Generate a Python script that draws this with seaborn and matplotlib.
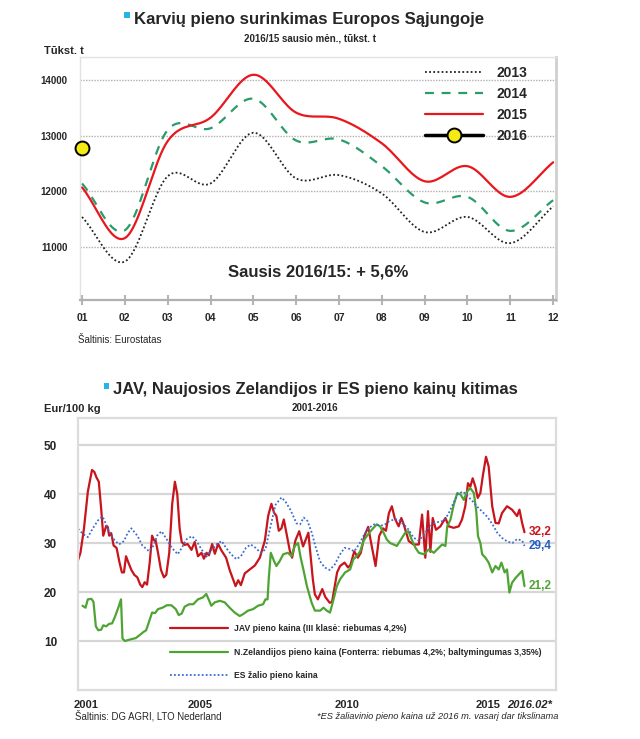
import numpy as np
import pandas as pd
import matplotlib
matplotlib.use("Agg")
import matplotlib.pyplot as plt
import seaborn as sns
from matplotlib.lines import Line2D
from matplotlib.patches import Rectangle

# ---- top chart: monthly cow milk collection, thousand t ----
months = np.arange(1, 13)
month_labels = ["01", "02", "03", "04", "05", "06", "07", "08", "09", "10", "11", "12"]
milk_2013 = [11540, 10740, 12270, 12140, 13050, 12230, 12290, 11960, 11270, 11540, 11070, 11730]
milk_2014 = [12140, 11300, 13100, 13130, 13660, 12910, 12930, 12450, 11800, 11900, 11290, 11840]
milk_2015 = [12070, 11160, 12900, 13320, 14090, 13410, 13300, 12860, 12180, 12450, 11900, 12520]
milk_2016 = [12780]

# ---- bottom chart: milk prices, EUR/100 kg ----
jav_t = [2001.0, 2001.08, 2001.2, 2001.33, 2001.47, 2001.55, 2001.62, 2001.7, 2001.78, 2001.85,
         2001.95, 2002.0, 2002.05, 2002.12, 2002.2, 2002.3, 2002.4, 2002.48, 2002.55, 2002.62,
         2002.7, 2002.8, 2002.9, 2003.0, 2003.1, 2003.17, 2003.25, 2003.33, 2003.42, 2003.5,
         2003.57, 2003.62, 2003.7, 2003.8, 2003.9, 2003.98, 2004.08, 2004.18, 2004.27, 2004.35,
         2004.43, 2004.5, 2004.6, 2004.7, 2004.83, 2004.94, 2005.05, 2005.17, 2005.25, 2005.34,
         2005.42, 2005.53, 2005.62, 2005.73, 2005.84, 2006.0, 2006.12, 2006.24, 2006.32, 2006.41,
         2006.5, 2006.63, 2006.8, 2006.97, 2007.14, 2007.31, 2007.42, 2007.53, 2007.62, 2007.7,
         2007.78, 2007.87, 2007.95, 2008.04, 2008.15, 2008.23, 2008.34, 2008.47, 2008.6, 2008.78,
         2008.93, 2009.0, 2009.1, 2009.25, 2009.35, 2009.5, 2009.58, 2009.67, 2009.75, 2009.85,
         2010.0, 2010.12, 2010.2, 2010.33, 2010.45, 2010.55, 2010.67, 2010.8, 2010.9, 2011.05,
         2011.17, 2011.3, 2011.4, 2011.5, 2011.6, 2011.7, 2011.83, 2011.92, 2012.0, 2012.17,
         2012.33, 2012.51, 2012.62, 2012.73, 2012.82, 2012.9, 2012.98, 2013.09, 2013.24, 2013.41,
         2013.52, 2013.69, 2013.86, 2013.97, 2014.08, 2014.17, 2014.25, 2014.33, 2014.42, 2014.5,
         2014.59, 2014.67, 2014.78, 2014.87, 2014.99, 2015.1, 2015.21, 2015.32, 2015.49, 2015.66,
         2015.83, 2015.91, 2016.0, 2016.08]
jav_v = [26.5, 28.0, 33.0, 40.5, 44.9, 44.5, 43.4, 42.5, 37.0, 31.5,
         33.5, 33.3, 31.5, 32.0, 29.5, 29.0, 26.0, 24.0, 24.0, 27.3,
         26.0, 24.5, 23.5, 23.0, 21.5, 21.0, 22.0, 21.5, 26.0, 31.5,
         30.5, 30.5, 28.0, 24.5, 23.0, 23.5, 28.0, 38.0, 42.5, 40.0,
         33.0, 30.2, 29.6, 29.8, 28.6, 30.2, 27.3, 28.0, 26.8, 28.0,
         27.5, 29.8, 27.8, 29.8, 28.5, 27.0, 24.5, 22.5, 21.2, 22.4,
         21.4, 23.8, 24.6, 25.4, 27.0, 30.5, 35.5, 38.0, 36.2, 35.5,
         32.5, 33.0, 34.8, 32.0, 28.5, 27.0, 30.5, 32.4, 29.3, 32.1,
         22.6, 19.5, 18.5, 20.6, 19.0, 17.8, 18.0, 21.2, 24.0, 25.3,
         26.0, 25.0, 25.5, 28.3, 27.0, 28.0, 31.4, 33.3, 30.0, 25.3,
         31.4, 33.0, 32.5, 36.1, 37.5, 35.0, 33.4, 35.1, 33.8, 30.4,
         29.7, 29.7, 35.8, 27.0, 36.5, 28.2, 35.1, 32.7, 33.4, 35.1,
         33.4, 33.1, 33.4, 34.8, 37.5, 42.2, 41.5, 43.2, 41.5, 39.2,
         40.2, 43.6, 47.6, 45.6, 37.5, 34.1, 34.0, 36.1, 37.5, 36.8,
         35.5, 36.8, 34.1, 32.2]

nz_t = [2001.15, 2001.25, 2001.33, 2001.45, 2001.52, 2001.6, 2001.68, 2001.78, 2001.85, 2001.95,
        2002.05, 2002.15, 2002.25, 2002.37, 2002.45, 2002.5, 2002.58, 2002.75, 2002.95, 2003.1,
        2003.2, 2003.3, 2003.4, 2003.5, 2003.6, 2003.7, 2003.85, 2004.0, 2004.15, 2004.3,
        2004.4, 2004.5, 2004.6, 2004.75, 2004.89, 2005.05, 2005.22, 2005.33, 2005.41, 2005.5,
        2005.62, 2005.79, 2005.95, 2006.12, 2006.29, 2006.46, 2006.58, 2006.74, 2006.91, 2007.08,
        2007.25, 2007.33, 2007.4, 2007.44, 2007.51, 2007.62, 2007.7, 2007.81, 2007.93, 2008.09,
        2008.21, 2008.32, 2008.43, 2008.52, 2008.61, 2008.73, 2008.89, 2009.0, 2009.18, 2009.29,
        2009.4, 2009.51, 2009.63, 2009.74, 2009.85, 2010.02, 2010.19, 2010.3, 2010.41, 2010.53,
        2010.64, 2010.75, 2010.92, 2011.09, 2011.2, 2011.32, 2011.43, 2011.54, 2011.77, 2012.05,
        2012.16, 2012.27, 2012.4, 2012.51, 2012.68, 2012.85, 2013.02, 2013.13, 2013.3, 2013.41,
        2013.47, 2013.58, 2013.69, 2013.81, 2013.92, 2014.03, 2014.14, 2014.25, 2014.37, 2014.45,
        2014.51, 2014.59, 2014.65, 2014.76, 2014.87, 2014.99, 2015.1, 2015.21, 2015.3, 2015.41,
        2015.49, 2015.57, 2015.66, 2015.77, 2015.89, 2016.0, 2016.08]
nz_v = [17.2, 16.8, 18.5, 18.6, 18.0, 13.0, 12.2, 12.3, 13.2, 13.0,
        13.5, 13.6, 15.0, 17.0, 18.5, 10.5, 10.0, 10.3, 10.6, 11.3,
        11.8, 12.2, 14.0, 15.8, 15.7, 16.5, 16.8, 17.3, 17.3, 16.5,
        15.3, 15.6, 17.0, 17.5, 17.5, 18.5, 18.9, 19.6, 18.5, 17.2,
        17.9, 18.2, 17.9, 16.8, 15.8, 15.1, 15.5, 16.2, 16.5, 17.2,
        17.5, 18.5, 18.5, 22.6, 28.0, 26.3, 25.3, 26.3, 27.7, 28.0,
        27.3, 29.4, 30.0, 27.0, 24.6, 21.2, 17.8, 16.2, 16.2, 16.8,
        16.2, 15.8, 18.5, 21.2, 22.6, 24.0, 24.6, 26.7, 27.3, 28.3,
        30.4, 31.4, 32.7, 33.8, 33.4, 32.1, 30.7, 30.0, 29.4, 32.1,
        32.4, 30.7, 29.0, 28.0, 27.7, 28.7, 28.0, 28.7, 29.7, 29.4,
        33.4, 34.8, 37.8, 40.2, 39.9, 38.8, 40.5, 41.2, 40.2, 36.5,
        31.4, 30.0, 27.7, 27.0, 26.0, 24.0, 25.3, 24.6, 26.0, 24.0,
        24.6, 19.9, 21.9, 22.8, 23.6, 24.3, 21.2]

es_t = [2001.0, 2001.17, 2001.33, 2001.5, 2001.67, 2001.83, 2002.0, 2002.17, 2002.38, 2002.55,
        2002.67, 2002.8, 2003.0, 2003.17, 2003.4, 2003.55, 2003.67, 2003.82, 2004.0, 2004.17,
        2004.37, 2004.5, 2004.67, 2004.85, 2005.0, 2005.17, 2005.33, 2005.5, 2005.67, 2005.85,
        2006.0, 2006.17, 2006.35, 2006.5, 2006.67, 2006.83, 2007.0, 2007.17, 2007.33, 2007.5,
        2007.67, 2007.87, 2008.0, 2008.17, 2008.38, 2008.5, 2008.62, 2008.75, 2008.9, 2009.0,
        2009.17, 2009.33, 2009.5, 2009.67, 2009.83, 2010.0, 2010.17, 2010.33, 2010.5, 2010.67,
        2010.83, 2011.0, 2011.17, 2011.33, 2011.5, 2011.67, 2011.83, 2012.0, 2012.17, 2012.33,
        2012.5, 2012.67, 2012.83, 2013.0, 2013.17, 2013.33, 2013.5, 2013.67, 2013.83, 2014.0,
        2014.17, 2014.33, 2014.5, 2014.67, 2014.83, 2015.0, 2015.17, 2015.33, 2015.5, 2015.67,
        2015.83, 2016.0, 2016.08]
es_v = [32.9, 31.8, 31.2, 33.0, 34.6, 35.4, 33.0, 31.0, 29.7, 30.4,
        32.0, 33.0, 31.5, 29.5, 28.3, 29.5, 31.5, 32.4, 30.7, 29.0,
        27.7, 29.0, 30.8, 31.4, 30.4, 28.7, 27.2, 28.5, 29.7, 30.4,
        29.0, 27.7, 26.7, 27.3, 29.0, 29.7, 29.0, 28.0, 28.7, 33.4,
        37.8, 39.3, 38.5, 36.8, 34.0, 33.8, 35.2, 34.5, 32.0, 29.7,
        26.3, 25.0, 24.5, 25.6, 27.5, 29.0, 28.8, 28.3, 29.8, 31.8,
        33.1, 33.8, 33.6, 33.6, 34.4, 34.8, 34.8, 33.8, 32.7, 31.1,
        30.5, 31.5, 33.0, 34.0, 34.3, 34.5, 35.8, 38.0, 40.0, 40.5,
        39.5, 38.5, 37.3, 36.3, 35.3, 33.8, 32.0, 31.0, 30.3, 30.0,
        30.8, 30.5, 29.4]

year_ticks = [2001.27, 2005.12, 2010.1, 2014.85, 2016.25]
year_labels = ["2001", "2005", "2010", "2015", "2016.02*"]

RED = "#c8141c"
GREEN = "#4ea433"
BLUE = "#3a6cd0"
CYAN = "#22b5e6"


def smooth(x, y, n=20):
    # catmull-rom curve through the points, only for drawing (like excel smoothed lines)
    x = np.asarray(x, float)
    y = np.asarray(y, float)
    px = np.concatenate([[2 * x[0] - x[1]], x, [2 * x[-1] - x[-2]]])
    py = np.concatenate([[2 * y[0] - y[1]], y, [2 * y[-1] - y[-2]]])
    xs, ys = [], []
    t = np.linspace(0, 1, n, endpoint=False)
    for i in range(1, len(px) - 2):
        for p, out in ((px, xs), (py, ys)):
            p0, p1, p2, p3 = p[i - 1], p[i], p[i + 1], p[i + 2]
            out.append(0.5 * (2 * p1 + (-p0 + p2) * t + (2 * p0 - 5 * p1 + 4 * p2 - p3) * t ** 2
                              + (-p0 + 3 * p1 - 3 * p2 + p3) * t ** 3))
    xs.append([x[-1]])
    ys.append([y[-1]])
    return np.concatenate(xs), np.concatenate(ys)


sns.set_theme(style="white")
plt.rcParams["font.family"] = ["Liberation Sans", "DejaVu Sans"]

fig = plt.figure(figsize=(6.4, 7.39), dpi=100)

# ================= top chart =================
ax1 = fig.add_axes([0.125, 0.594, 0.744, 0.329])
top = pd.DataFrame({"month": months, "2013": milk_2013, "2014": milk_2014, "2015": milk_2015})
styles = {"2013": ("#222222", (0, (1, 1.3)), 1.3),
          "2014": ("#2a9c6a", (0, (4, 3.5)), 1.6),
          "2015": ("#e8161d", "-", 1.6)}
for col, (color, ls, lw) in styles.items():
    sx, sy = smooth(top["month"], top[col])
    sns.lineplot(x=sx, y=sy, ax=ax1, color=color, linestyle=ls, linewidth=lw,
                 estimator=None, sort=False)
ax1.plot(months[:len(milk_2016)], milk_2016, marker="o", markersize=10, markerfacecolor="#f5ea14",
         markeredgecolor="black", markeredgewidth=1.4, linestyle="none", clip_on=False, zorder=5)

ax1.set_xlim(0.953, 12.07)
ax1.set_ylim(10050, 14410)
ax1.set_yticks([11000, 12000, 13000, 14000])
ax1.set_yticklabels(["11000", "12000", "13000", "14000"], fontweight="bold", fontsize=7)
ax1.set_xticks(months)
ax1.set_xticklabels(month_labels, fontweight="bold", fontsize=7.5)
ax1.tick_params(axis="y", length=0, pad=9)
ax1.tick_params(axis="x", direction="inout", length=7, width=1.5, color="#b5b5b5", pad=6, bottom=True)
ax1.grid(axis="y", color="#b0b0b0", linestyle=(0, (1, 1)), linewidth=1)
ax1.set_xlabel("")
ax1.set_ylabel("")
for side, c, w in [("left", "#e2e2e2", 1.0), ("top", "#e2e2e2", 1.0),
                   ("right", "#cfcfcf", 2.0), ("bottom", "#b0b0b0", 1.6)]:
    ax1.spines[side].set_color(c)
    ax1.spines[side].set_linewidth(w)

handles = [Line2D([], [], color=c, linestyle=ls, linewidth=lw) for c, ls, lw in styles.values()]
handles.append(Line2D([], [], color="black", linewidth=2.5, marker="o", markersize=10,
                      markerfacecolor="#f5ea14", markeredgecolor="black", markeredgewidth=1.4))
ax1.legend(handles, ["2013", "2014", "2015", "2016"], loc="upper left",
           bbox_to_anchor=(0.71, 0.99), frameon=False, borderpad=0, handlelength=4.2,
           handletextpad=0.95, labelspacing=0.5, prop={"weight": "bold", "size": 10})

ax1.text(0.5, 0.115, "Sausis 2016/15: + 5,6%", transform=ax1.transAxes, ha="center", va="center",
         fontsize=12, fontweight="bold")

fig.text(0.4836, 0.974, "Karvių pieno surinkimas Europos Sąjungoje", ha="center", va="center",
         fontsize=12.1, fontweight="bold")
fig.add_artist(Rectangle((0.194, 0.9756), 0.0085, 0.0082, transform=fig.transFigure,
                         color=CYAN, lw=0))
fig.text(0.484, 0.948, "2016/15 sausio mėn., tūkst. t", ha="center", va="center",
         fontsize=7, fontweight="bold")
fig.text(0.068, 0.931, "Tūkst. t", ha="left", va="center", fontsize=8, fontweight="bold")
fig.text(0.122, 0.540, "Šaltinis: Eurostatas", ha="left", va="center", fontsize=7)

# ================= bottom chart =================
ax2 = fig.add_axes([0.122, 0.0663, 0.747, 0.368])
sns.lineplot(x=jav_t, y=jav_v, ax=ax2, color=RED, linewidth=1.6, estimator=None, sort=False)
sns.lineplot(x=nz_t, y=nz_v, ax=ax2, color=GREEN, linewidth=1.6, estimator=None, sort=False)
sns.lineplot(x=es_t, y=es_v, ax=ax2, color=BLUE, linewidth=1.3, linestyle=(0, (1, 1.2)),
             estimator=None, sort=False)

ax2.set_xlim(2001.0, 2017.15)
ax2.set_ylim(0, 55.5)
ax2.set_yticks([10, 20, 30, 40, 50])
ax2.set_yticklabels(["10", "20", "30", "40", "50"], fontweight="bold", fontsize=8.5)
ax2.set_xticks(year_ticks)
ax2.set_xticklabels(year_labels, fontweight="bold", fontsize=8)
ax2.get_xticklabels()[-1].set_fontstyle("italic")
ax2.tick_params(axis="both", length=0)
ax2.tick_params(axis="y", pad=15)
ax2.tick_params(axis="x", pad=7)
ax2.grid(axis="y", color="#d6d6d6", linewidth=1.6)
ax2.grid(axis="x", visible=False)
ax2.set_xlabel("")
ax2.set_ylabel("")
for side in ["left", "top", "right", "bottom"]:
    ax2.spines[side].set_color("#dcdcdc")
    ax2.spines[side].set_linewidth(1.6)

for series_v, color in [(jav_v, RED), (es_v, "#1f5cc4"), (nz_v, GREEN)]:
    ax2.annotate(f"{series_v[-1]:.1f}".replace(".", ","), xy=(2016.08, series_v[-1]),
                 xytext=(3, 0), textcoords="offset points", color=color, fontsize=8.5,
                 fontweight="bold", va="center", ha="left")

handles2 = [Line2D([], [], color=RED, linewidth=1.6),
            Line2D([], [], color=GREEN, linewidth=1.6),
            Line2D([], [], color=BLUE, linewidth=1.3, linestyle=(0, (1, 1.2)))]
ax2.legend(handles2, ["JAV pieno kaina (III klasė: riebumas 4,2%)",
                      "N.Zelandijos pieno kaina (Fonterra: riebumas 4,2%; baltymingumas 3,35%)",
                      "ES žalio pieno kaina"],
           loc="lower left", bbox_to_anchor=(0.183, 0.02), frameon=False, borderpad=0,
           handlelength=6.7, handletextpad=0.7, labelspacing=1.7,
           prop={"weight": "bold", "size": 6.2})

fig.text(0.4922, 0.473, "JAV, Naujosios Zelandijos ir ES pieno kainų kitimas", ha="center",
         va="center", fontsize=12, fontweight="bold")
fig.add_artist(Rectangle((0.1625, 0.4736), 0.0085, 0.0082, transform=fig.transFigure,
                         color=CYAN, lw=0))
fig.text(0.492, 0.448, "2001-2016", ha="center", va="center", fontsize=7, fontweight="bold")
fig.text(0.069, 0.447, "Eur/100 kg", ha="left", va="center", fontsize=8, fontweight="bold")
fig.text(0.117, 0.031, "Šaltinis: DG AGRI, LTO Nederland", ha="left", va="center", fontsize=6.9)
fig.text(0.872, 0.031, "*ES žaliavinio pieno kaina už 2016 m. vasarį dar tikslinama", ha="right",
         va="center", fontsize=6.7, fontstyle="italic")

fig.savefig("out.png", dpi=100)
